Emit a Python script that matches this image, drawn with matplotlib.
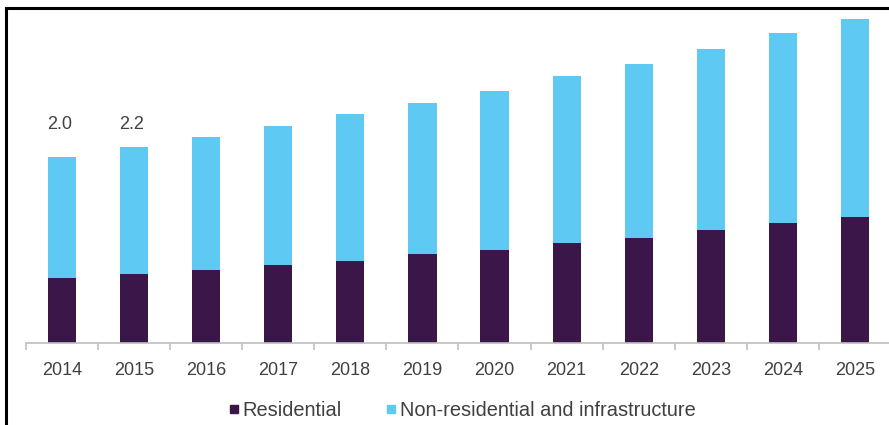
import numpy as np
import matplotlib.pyplot as plt
from matplotlib.lines import Line2D

plt.rcParams['font.family'] = ['Liberation Sans', 'DejaVu Sans']

# data
years = ['2014', '2015', '2016', '2017', '2018', '2019',
         '2020', '2021', '2022', '2023', '2024', '2025']
residential = [0.71, 0.76, 0.80, 0.86, 0.90, 0.98, 1.02, 1.10, 1.15, 1.24, 1.32, 1.38]
non_residential = [1.33, 1.39, 1.46, 1.52, 1.61, 1.65, 1.74, 1.83, 1.91, 1.98, 2.08, 2.17]
shown_labels = ['2.0', '2.2']

c_res = '#3b1749'
c_non = '#5ecaf3'
txt = '#404040'

fig = plt.figure(figsize=(8.89, 4.25), dpi=100)
ax = fig.add_axes([26 / 889, 1 - 343 / 425, 865 / 889, 333 / 425])

x = np.arange(len(years))
ax.bar(x, residential, width=0.39, color=c_res)
ax.bar(x, non_residential, width=0.39, bottom=residential, color=c_non)

totals = np.array(residential) + np.array(non_residential)
label_y = totals[:2].max() + 0.24
for i, lab in enumerate(shown_labels):
    ax.text(x[i] - 0.04, label_y, lab, ha='center', va='center',
            fontsize=13, color=txt)

ax.set_xlim(-0.5, len(years) - 0.5)
ax.set_ylim(0, 3.65)
ax.set_yticks([])
for s in ['top', 'right', 'left']:
    ax.spines[s].set_visible(False)
ax.spines['bottom'].set_color('#bfbfbf')
ax.spines['bottom'].set_linewidth(1.2)

ax.set_xticks(x)
ax.set_xticklabels(years, fontsize=13, color=txt)
ax.tick_params(axis='x', which='major', length=0, pad=14)
ax.set_xticks(np.arange(len(years) + 1) - 0.5, minor=True)
ax.tick_params(axis='x', which='minor', length=5, color='#bfbfbf', width=1.2)

handles = [Line2D([], [], marker='s', linestyle='none', color=c_res, markersize=6),
           Line2D([], [], marker='s', linestyle='none', color=c_non, markersize=6)]
fig.legend(handles, ['Residential', 'Non-residential and infrastructure'],
           loc='center', bbox_to_anchor=(0.520, 1 - 410 / 425), ncol=2,
           frameon=False, fontsize=14.4, handlelength=0.5, handletextpad=0.2,
           columnspacing=2.2, labelcolor=txt)

# outer frame (left and top edges visible)
fig.add_artist(Line2D([6 / 889, 6 / 889], [0, 1 - 8 / 425], color='black',
                      linewidth=2.2, transform=fig.transFigure))
fig.add_artist(Line2D([6 / 889, 1], [1 - 8 / 425, 1 - 8 / 425], color='black',
                      linewidth=2.2, transform=fig.transFigure))

plt.savefig('out.png', dpi=100)
